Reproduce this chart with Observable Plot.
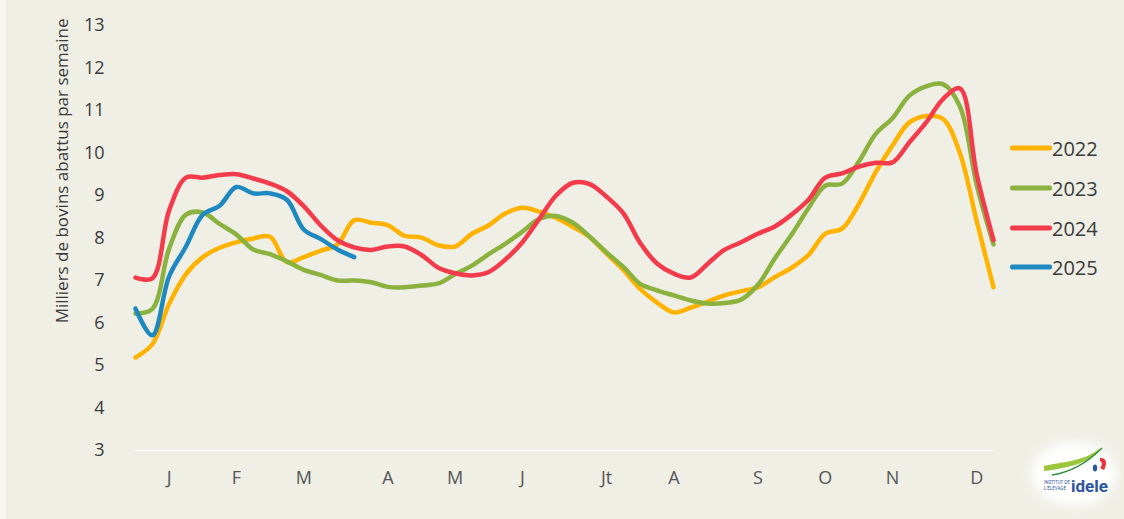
<!DOCTYPE html>
<html lang="fr">
<head>
<meta charset="utf-8">
<script src="https://cdn.jsdelivr.net/npm/d3@7"></script>
<script src="https://cdn.jsdelivr.net/npm/@observablehq/plot@0.6"></script>
<style>
  html, body { margin: 0; padding: 0; background: #efefe6; }
  #wrap { position: relative; width: 1124px; height: 519px; overflow: hidden; background: #efefe6; }
  #wrap::before { content: ""; position: absolute; left: 0; top: 0; bottom: 0; width: 6px; background: #f7f7f2; }
  #chart svg { display: block; }
  .legend { position: absolute; left: 1010px; top: 0; font-family: "Open Sans", sans-serif; font-size: 20px; color: #3a3a3a; }
  .legend .item { position: absolute; left: 0; display: flex; align-items: center; white-space: nowrap; transform: translateY(-50%); }
  .legend .swatch { width: 42px; height: 5px; border-radius: 2px; margin-right: 0; }
  .logo { position: absolute; left: 1022px; top: 432px; }
</style>
</head>
<body>
<div id="wrap">
  <div id="chart"></div>
  <div class="legend" id="legend"></div>
  <svg class="logo" width="100" height="84" viewBox="0 0 100 84">
    <defs>
      <filter id="soft" x="-30%" y="-30%" width="160%" height="160%"><feGaussianBlur stdDeviation="6"/></filter>
    </defs>
    <ellipse cx="52" cy="42" rx="42" ry="32" fill="#ffffff" filter="url(#soft)"/>
    <path d="M22 34 C38 30 62 30 78 16 C70 30 48 36 22 39 Z" fill="#9cc63c"/>
    <path d="M30 43 C50 40 66 30 80 16" stroke="#2f8f3a" stroke-width="1.5" fill="none"/>
    <path d="M78 26 C84 25 86 31 82 38 L78 36 C81 33 80 30 78 29 Z" fill="#e8323c"/>
    <ellipse cx="73" cy="36" rx="2.2" ry="3.4" fill="#2d55a0"/>
    <text x="22" y="52" font-family="Roboto, sans-serif" font-size="4.5" fill="#2d55a0">INSTITUT DE</text>
    <text x="22" y="58" font-family="Roboto, sans-serif" font-size="4.5" fill="#2d55a0">L'ÉLEVAGE</text>
    <text x="49" y="60" font-family="Roboto, sans-serif" font-weight="bold" font-size="17" fill="#2d55a0">idele</text>
  </svg>
</div>
<script>
// Abattages hebdomadaires de bovins (milliers de têtes), semaines 1 à 52
const years = ["2022", "2023", "2024", "2025"];
const colors = ["#ffb200", "#8bb23f", "#f43b4b", "#1e88c0"];

const values2022 = [5.19, 5.5, 6.45, 7.15, 7.55, 7.77, 7.9, 7.99, 8.03, 7.43, 7.55, 7.7, 7.85,
  8.42, 8.36, 8.3, 8.05, 8.01, 7.83, 7.8, 8.1, 8.3, 8.58, 8.71, 8.62, 8.47, 8.26, 8.02, 7.63,
  7.25, 6.8, 6.48, 6.25, 6.36, 6.5, 6.65, 6.75, 6.84, 7.08, 7.3, 7.6, 8.1, 8.22, 8.8, 9.55,
  10.18, 10.72, 10.87, 10.8, 10.0, 8.4, 6.84];
const values2023 = [6.22, 6.33, 7.75, 8.55, 8.6, 8.33, 8.08, 7.73, 7.62, 7.45, 7.25, 7.13, 7.0,
  7.0, 6.96, 6.85, 6.84, 6.88, 6.93, 7.15, 7.35, 7.62, 7.87, 8.15, 8.45, 8.52, 8.36, 8.03, 7.66,
  7.32, 6.92, 6.77, 6.65, 6.53, 6.46, 6.47, 6.55, 6.9, 7.52, 8.08, 8.7, 9.23, 9.28, 9.8, 10.45,
  10.82, 11.35, 11.57, 11.62, 11.1, 9.25, 7.85];
const values2024 = [7.07, 7.05, 8.65, 9.42, 9.42, 9.48, 9.5, 9.4, 9.28, 9.1, 8.75, 8.3, 7.95,
  7.78, 7.72, 7.8, 7.8, 7.6, 7.3, 7.17, 7.12, 7.2, 7.5, 7.9, 8.45, 9.0, 9.3, 9.27, 8.97, 8.58,
  7.88, 7.4, 7.16, 7.07, 7.39, 7.72, 7.9, 8.1, 8.27, 8.55, 8.9, 9.42, 9.52, 9.68, 9.77, 9.78,
  10.25, 10.72, 11.27, 11.52, 9.5, 7.95];
const values2025 = [6.34, 5.71, 7.1, 7.8, 8.55, 8.76, 9.2, 9.05, 9.05, 8.9, 8.2, 7.98, 7.73, 7.55];

// Repères de mois : semaine portant l'étiquette
const monthWeeks = [3, 7, 11, 16, 20, 24, 29, 33, 38, 42, 46, 51];
const monthLabels = ["J", "F", "M", "A", "M", "J", "Jt", "A", "S", "O", "N", "D"];
const yTicks = [3, 4, 5, 6, 7, 8, 9, 10, 11, 12, 13];
const yTitle = "Milliers de bovins abattus par semaine";

const series = [values2022, values2023, values2024, values2025];
const rows = series.flatMap((vals, i) =>
  vals.map((v, j) => ({year: years[i], week: j + 1, value: v}))
);

const chart = Plot.plot({
  width: 1124,
  height: 519,
  marginLeft: 135,
  marginRight: 131,
  marginTop: 25,
  marginBottom: 69,
  style: {background: "transparent", fontFamily: "'Open Sans', sans-serif", fontSize: "18px", color: "#3f3f3f"},
  x: {domain: [1, 52]},
  y: {domain: [3, 13]},
  color: {domain: years, range: colors},
  marks: [
    Plot.ruleY([3], {stroke: "#ffffff", strokeWidth: 1.5, strokeOpacity: 0.8}),
    Plot.axisX({
      ticks: monthWeeks,
      tickFormat: (d) => monthLabels[monthWeeks.indexOf(d)],
      tickSize: 0,
      tickPadding: 21,
      label: null,
      fill: "#555555"
    }),
    Plot.axisY({ticks: yTicks, tickSize: 0, tickPadding: 31, label: null, fill: "#3a3a3a"}),
    Plot.lineY(rows, {
      x: "week",
      y: "value",
      z: "year",
      stroke: "year",
      strokeWidth: 4.5,
      curve: "catmull-rom",
      strokeLinejoin: "round",
      strokeLinecap: "round"
    }),
    Plot.text([yTitle], {
      text: (d) => d,
      frameAnchor: "top-left",
      rotate: -90,
      textAnchor: "end",
      dx: -80,
      dy: -7,
      fontSize: 17,
      fill: "#3a3a3a"
    })
  ]
});
document.getElementById("chart").appendChild(chart);

// Légende à droite du graphique
const legendTops = [148, 188, 228, 267];
const legend = document.getElementById("legend");
years.forEach((y, i) => {
  const item = document.createElement("div");
  item.className = "item";
  item.style.top = legendTops[i] + "px";
  const sw = document.createElement("span");
  sw.className = "swatch";
  sw.style.background = colors[i];
  const label = document.createElement("span");
  label.textContent = y;
  item.appendChild(sw);
  item.appendChild(label);
  legend.appendChild(item);
});
</script>
</body>
</html>
